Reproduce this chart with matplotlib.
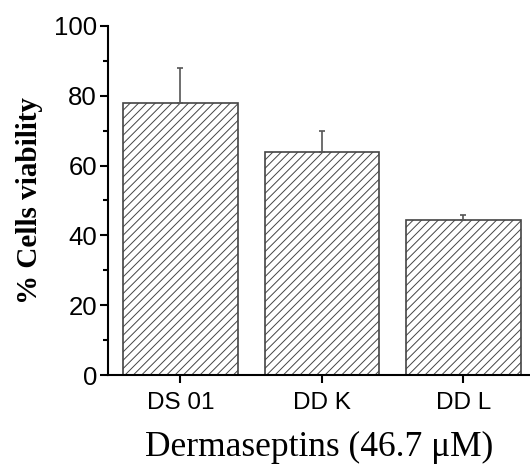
import matplotlib
matplotlib.use("Agg")
import matplotlib.pyplot as plt
from matplotlib.ticker import MultipleLocator

# data
labels = ["DS 01", "DD K", "DD L"]
viability = [78, 64, 44.5]
err_up = [10, 6, 1.3]

plt.rcParams['hatch.linewidth'] = 0.7
plt.rcParams['hatch.color'] = '#3a3a3a'

fig = plt.figure(figsize=(5.3, 4.69), dpi=100)
ax = fig.add_axes([0.204, 0.2, 0.796, 0.745])

x = [1, 2, 3]
ax.bar(x, viability, width=0.81, color='white', edgecolor='#444444',
       linewidth=1.2, hatch='////', zorder=2)
ax.errorbar(x, viability, yerr=[[0, 0, 0], err_up], fmt='none',
            ecolor='#555555', elinewidth=1.2, capsize=2.2, capthick=1.2, zorder=3)

ax.set_xlim(0.49, 3.47)
ax.set_ylim(0, 100)
ax.set_xticks(x)
ax.set_xticklabels(labels, family='Liberation Sans', fontsize=17.5)
ax.yaxis.set_major_locator(MultipleLocator(20))
ax.yaxis.set_minor_locator(MultipleLocator(10))
for lab in ax.get_yticklabels():
    lab.set_family('Liberation Sans')
    lab.set_fontsize(18.5)

ax.spines['top'].set_visible(False)
ax.spines['right'].set_visible(False)
ax.spines['left'].set_linewidth(1.5)
ax.spines['bottom'].set_linewidth(1.5)
ax.tick_params(axis='y', which='major', length=6, width=1.5, pad=2)
ax.tick_params(axis='y', which='minor', length=3.5, width=1.5)
ax.tick_params(axis='x', which='major', length=6, width=1.5, pad=6)

ax.set_ylabel("% Cells viability", family='Liberation Serif', fontweight='bold',
              fontsize=21, labelpad=8)
ax.set_xlabel("Dermaseptins (46.7 \u03bcM)", family='Liberation Serif',
              fontsize=25.5, labelpad=12)

fig.savefig("out.png", dpi=100)
